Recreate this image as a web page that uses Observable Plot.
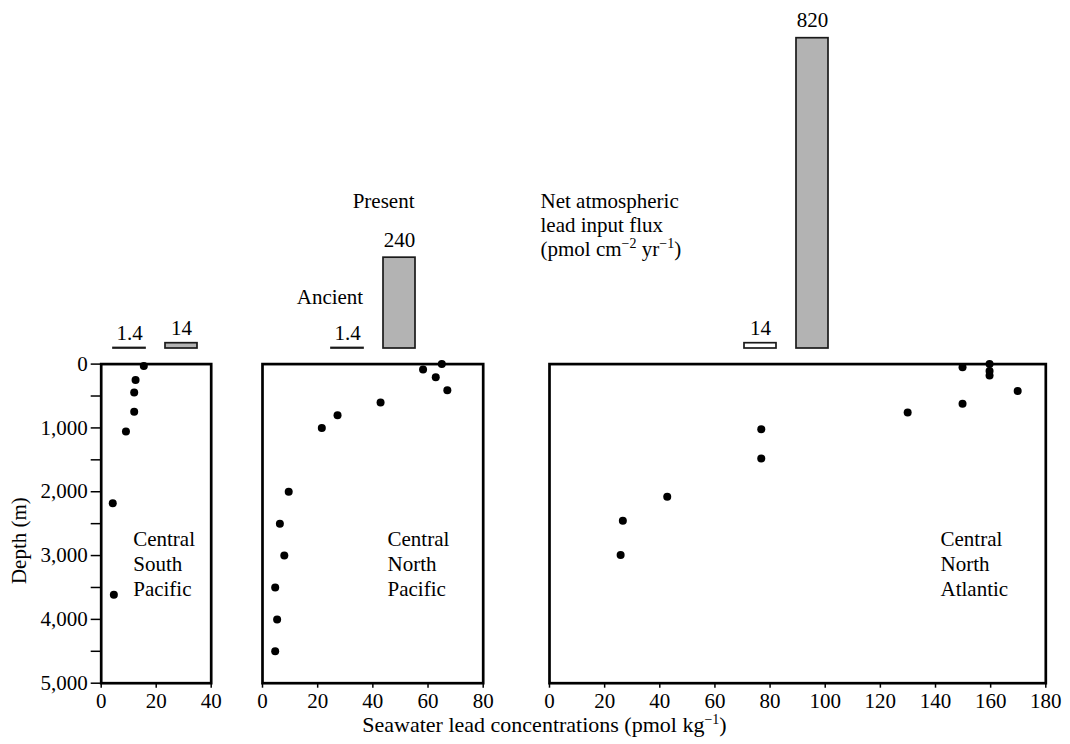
<!DOCTYPE html>
<html><head><meta charset="utf-8">
<script src="https://cdn.jsdelivr.net/npm/d3@7"></script>
<script src="https://cdn.jsdelivr.net/npm/@observablehq/plot@0.6"></script>
<style>
body{margin:0;background:#fff;}
#chart{position:relative;width:1070px;height:744px;background:#fff;}
#chart svg{position:absolute;left:0;top:0;overflow:visible;background:transparent;}
</style></head><body><div id="chart"></div>
<script>
// ---- data ----
const southPacificConc  = [15.5, 12.5, 12, 12, 9, 4.2, 4.6];
const southPacificDepth = [30, 250, 445, 745, 1055, 2180, 3615];
const northPacificConc  = [65, 58.2, 62.8, 67, 42.8, 27.2, 21.5, 9.5, 6.3, 7.9, 4.6, 5.3, 4.6];
const northPacificDepth = [0, 85, 205, 410, 600, 800, 1000, 2000, 2500, 3000, 3500, 4000, 4500];
const northAtlanticConc  = [159.6, 159.6, 159.6, 149.8, 169.8, 149.8, 129.9, 76.8, 76.8, 42.7, 26.6, 25.8];
const northAtlanticDepth = [0, 110, 180, 50, 420, 620, 760, 1020, 1480, 2080, 2455, 2990];

const eras = ["Ancient", "Present"];
const southPacificFlux  = [1.4, 14];
const northPacificFlux  = [1.4, 240];
const northAtlanticFlux = [14, 820];

const panelNames = ["Central\nSouth\nPacific", "Central\nNorth\nPacific", "Central\nNorth\nAtlantic"];
const depthTicks = [0, 500, 1000, 1500, 2000, 2500, 3000, 3500, 4000, 4500, 5000];
const xTicks = [[0, 20, 40], [0, 20, 40, 60, 80], [0, 20, 40, 60, 80, 100, 120, 140, 160, 180]];
const xDomains = [[0, 40], [0, 80], [0, 180]];
const fluxDomain = [0, 820];

const yLabel = "Depth (m)";
const xLabel = "Seawater lead concentrations (pmol kg^{−1})";
const fluxLabel = "Net atmospheric\nlead input flux\n(pmol cm^{−2} yr^{−1})";

// ---- layout ----
const W = 1070, H = 744;
const frameTop = 363.6, frameBottom = 682.7;
const barTop = 37.7, barBase = 348;
const panels = [
  {left: 100.7, right: 210.7, barLeft: 113.3, conc: southPacificConc, depth: southPacificDepth, flux: southPacificFlux, labelDx: 32},
  {left: 262, right: 482.7, barLeft: 331, conc: northPacificConc, depth: northPacificDepth, flux: northPacificFlux, labelDx: 125},
  {left: 549, right: 1045.3, barLeft: 743.7, conc: northAtlanticConc, depth: northAtlanticDepth, flux: northAtlanticFlux, labelDx: 391}
];
const font = {fontFamily: "'Liberation Serif', 'Times New Roman', serif", fontSize: "21px", background: "transparent", overflow: "visible", color: "#000"};

function superscripts(svg) {
  const walker = document.createTreeWalker(svg, NodeFilter.SHOW_TEXT);
  const nodes = [];
  while (walker.nextNode()) if (walker.currentNode.nodeValue.includes("^{")) nodes.push(walker.currentNode);
  const NS = "http://www.w3.org/2000/svg";
  for (const node of nodes) {
    const parent = node.parentNode;
    const parts = node.nodeValue.split(/(\^\{[^}]*\})/);
    let raised = false;
    for (const part of parts) {
      if (!part) continue;
      const t = document.createElementNS(NS, "tspan");
      if (part.startsWith("^{")) {
        t.textContent = part.slice(2, -1);
        t.setAttribute("font-size", "14");
        t.setAttribute("dy", "-8");
        raised = true;
      } else {
        t.textContent = part;
        if (raised) { t.setAttribute("dy", "8"); raised = false; }
      }
      parent.insertBefore(t, node);
    }
    parent.removeChild(node);
  }
}

const chart = document.getElementById("chart");

panels.forEach((p, i) => {
  const pts = p.conc.map((c, k) => ({conc: c, depth: p.depth[k]}));
  const marks = [
    Plot.frame({stroke: "#000", strokeWidth: 2.7}),
    Plot.axisX({ticks: xTicks[i], tickSize: 5, tickPadding: 4.5, tickFormat: d => String(d), label: null, strokeWidth: 1.5}),
    Plot.dot(pts, {x: "conc", y: "depth", r: 4, fill: "#000"}),
    Plot.text([panelNames[i]], {frameAnchor: "top-left", dx: p.labelDx, dy: 164.5, textAnchor: "start", lineAnchor: "top", lineHeight: 25 / 21})
  ];
  if (i === 0) {
    marks.push(Plot.axisY({ticks: depthTicks, tickSize: 10, tickPadding: 3.4, tickFormat: d => d % 1000 === 0 ? d3.format(",")(d) : "", label: null, strokeWidth: 1.5}));
    marks.push(Plot.text([yLabel], {frameAnchor: "left", rotate: -90, dx: -82.4, dy: 17, lineAnchor: "middle", textAnchor: "middle"}));
  }
  if (i === 1) {
    marks.push(Plot.text([xLabel], {frameAnchor: "bottom", dx: 544 - (p.left + p.right) / 2, dy: 731 - frameBottom, lineAnchor: "bottom", textAnchor: "middle", fontSize: 22}));
  }
  const svg = Plot.plot({
    width: W, height: H,
    marginLeft: p.left, marginRight: W - p.right, marginTop: frameTop, marginBottom: H - frameBottom,
    x: {domain: xDomains[i]},
    y: {domain: [0, 5000], reverse: true, axis: i === 0 ? undefined : null},
    style: font,
    marks
  });
  superscripts(svg);
  chart.appendChild(svg);

  // flux bars
  const fluxData = eras.map((e, k) => ({era: e, flux: p.flux[k]}));
  const bmarks = [
    Plot.barY(fluxData, {x: "era", y: "flux", fill: "era", stroke: "#1a1a1a", strokeWidth: 1.7}),
    Plot.text(fluxData, {filter: d => d.flux > 100, x: "era", y: "flux", text: d => String(d.flux), lineAnchor: "bottom", dy: -11}),
    Plot.text(fluxData, {filter: d => d.flux <= 100, x: "era", y: "flux", text: d => String(d.flux), lineAnchor: "bottom", dy: -8})
  ];
  if (i === 1) {
    bmarks.push(Plot.text(["Present"], {frameAnchor: "bottom-right", dx: -1, dy: 207 - barBase, textAnchor: "end", lineAnchor: "bottom"}));
    bmarks.push(Plot.text(["Ancient"], {frameAnchor: "bottom-left", dx: 31.7, dy: 303 - barBase, textAnchor: "end", lineAnchor: "bottom"}));
  }
  if (i === 2) {
    bmarks.push(Plot.text([fluxLabel], {frameAnchor: "bottom-left", dx: 540 - p.barLeft, dy: 255 - barBase, textAnchor: "start", lineAnchor: "bottom", lineHeight: 24 / 21}));
  }
  const bsvg = Plot.plot({
    width: W, height: H,
    marginLeft: p.barLeft, marginRight: W - (p.barLeft + 84), marginTop: barTop, marginBottom: H - barBase,
    x: {domain: eras, axis: null, paddingInner: 0.385, paddingOuter: 0},
    y: {domain: fluxDomain, axis: null},
    color: {domain: eras, range: ["#ffffff", "#b3b3b3"]},
    style: font,
    marks: bmarks
  });
  superscripts(bsvg);
  chart.appendChild(bsvg);
});
</script></body></html>
